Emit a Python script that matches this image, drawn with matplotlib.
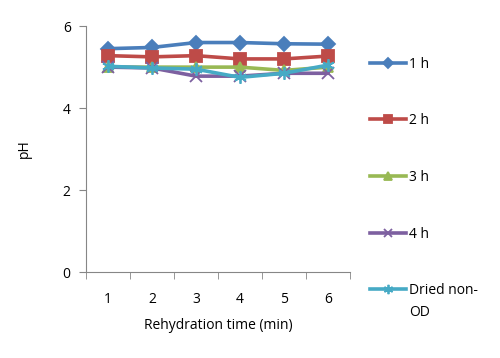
import matplotlib.pyplot as plt
from matplotlib.ticker import FixedLocator
from matplotlib.text import Annotation

plt.rcParams['font.family'] = ['Open Sans', 'DejaVu Sans']

# Veriler
times = [1, 2, 3, 4, 5, 6]
ph_1h = [5.45, 5.48, 5.60, 5.60, 5.57, 5.56]
ph_2h = [5.28, 5.25, 5.28, 5.20, 5.20, 5.27]
ph_3h = [5.00, 5.00, 5.00, 5.00, 4.92, 5.00]
ph_4h = [5.00, 4.98, 4.78, 4.78, 4.85, 4.85]
ph_dried = [5.02, 4.98, 4.95, 4.75, 4.85, 5.05]
labels = ['1 h', '2 h', '3 h', '4 h', 'Dried non-']

series = [ph_1h, ph_2h, ph_3h, ph_4h, ph_dried]
colors = ['#4A7EBB', '#BE4B48', '#98B954', '#7D60A0', '#46AAC5']
markers = ['D', 's', '^', 'x', (6, 2, 0)]
msizes = [7, 8, 7, 8, 9]

fig = plt.figure(figsize=(5, 3.58), dpi=100)
ax = fig.add_axes([0.172, 0.24, 0.528, 0.687])

for y, c, m, ms, lab in zip(series, colors, markers, msizes, labels):
    ax.plot(times, y, color=c, lw=2.6, marker=m, markersize=ms,
            markeredgecolor=c, markerfacecolor=c, markeredgewidth=1.3,
            label=lab)

ax.set_xlim(0.5, 6.5)
ax.set_ylim(0, 6)
ax.set_yticks([0, 2, 4, 6])
ax.set_xticks(times)
ax.xaxis.set_minor_locator(FixedLocator([0.5 + i for i in range(7)]))
ax.tick_params(axis='x', which='major', length=0, pad=14, labelsize=10)
ax.tick_params(axis='x', which='minor', length=5, color='#868686', direction='out')
ax.tick_params(axis='y', length=5, color='#868686', labelsize=10, pad=6)

for s in ['top', 'right']:
    ax.spines[s].set_visible(False)
for s in ['left', 'bottom']:
    ax.spines[s].set_color('#868686')

ax.set_xlabel('Rehydration time (min)', fontsize=10, labelpad=8)
ax.set_ylabel('pH', fontsize=10, labelpad=22)

leg = fig.legend(loc='upper left', bbox_to_anchor=(0.714, 0.877), frameon=False,
                 fontsize=10, labelspacing=3.0, handlelength=2.6, handletextpad=0.25,
                 markerscale=0.75)
# ikinci satir (legend'dan sonra cizilsin)
od = Annotation('OD', xy=(0, 0), xycoords=leg.texts[4], xytext=(0, -5),
                textcoords='offset points', ha='left', va='top', fontsize=10)
od.set_zorder(10)
fig.add_artist(od)

plt.savefig('out.png', dpi=100)
